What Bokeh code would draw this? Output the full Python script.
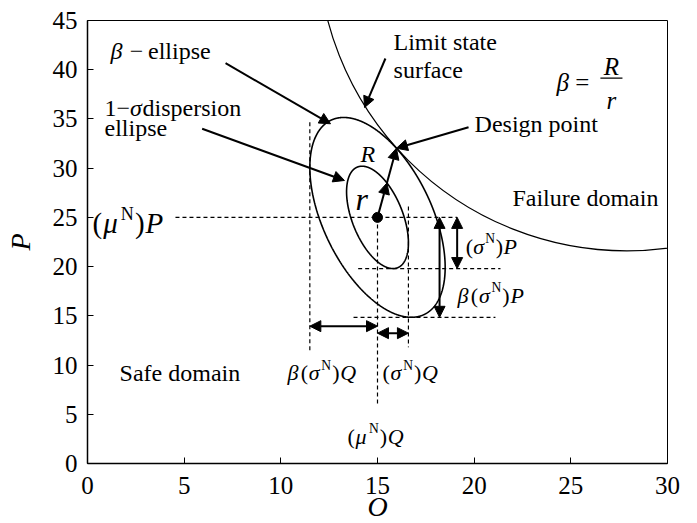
import numpy as np
from bokeh.plotting import figure
from bokeh.models import Label, Arrow, NormalHead, FixedTicker, Range1d
from bokeh.embed import file_html
from bokeh.resources import INLINE

SERIF = "'Liberation Serif', serif"

# axis ticks
x_ticks = [0, 5, 10, 15, 20, 25, 30]
y_ticks = [0, 5, 10, 15, 20, 25, 30, 35, 40, 45]

# mean point of the two variables (Q, P)
mu_q, mu_p = 15.0, 25.0
# half extents of the 1-sigma dispersion ellipse
sigma_q, sigma_p = 1.6, 5.2
# half extents of the beta ellipse
beta_sigma_q, beta_sigma_p = 3.5, 10.15
# correlation between Q and P
rho = -0.5

# limit state surface: elliptical arc (centre and semi-axes)
ls_center_q, ls_center_p = 27.9, 53.0
ls_radius_q, ls_radius_p = 16.0, 31.4


def dispersion_ellipse(hq, hp, n=1441):
    t = np.linspace(0, 2 * np.pi, n)
    phase = np.arccos(rho)
    return mu_q + hq * np.cos(t), mu_p + hp * np.cos(t + phase)


def ray_hit(hq, hp, dq, dp):
    """Scale factor s so that centre + s*(dq, dp) lies on the ellipse."""
    a = dq ** 2 / hq ** 2 - 2 * rho * dq * dp / (hq * hp) + dp ** 2 / hp ** 2
    return np.sqrt((1 - rho ** 2) / a)


p = figure(frame_width=580, frame_height=443,
           x_range=Range1d(0, 30), y_range=Range1d(0, 45),
           output_backend="svg", toolbar_location=None,
           min_border_left=87, min_border_right=30,
           min_border_top=20, min_border_bottom=50)
p.grid.visible = False
p.outline_line_color = "black"
p.outline_line_width = 1
p.background_fill_color = "white"
p.border_fill_color = "white"

for ax in (p.xaxis[0], p.yaxis[0]):
    ax.major_tick_in = 6
    ax.major_tick_out = 0
    ax.minor_tick_line_color = None
    ax.axis_line_width = 1.5
    ax.axis_line_color = "black"
    ax.major_tick_line_color = "black"
    ax.major_label_text_font = SERIF
    ax.major_label_text_font_size = "25px"
    ax.major_label_text_color = "black"
    ax.axis_label_text_font = SERIF
    ax.axis_label_text_font_size = "28px"
    ax.axis_label_text_font_style = "italic"
    ax.axis_label_text_color = "black"
p.xaxis.ticker = FixedTicker(ticks=x_ticks)
p.yaxis.ticker = FixedTicker(ticks=y_ticks)
p.xaxis.axis_label = "O"
p.yaxis.axis_label = "P"
p.xaxis.major_label_standoff = 13
p.yaxis.major_label_standoff = 10
p.xaxis.axis_label_standoff = -6
p.yaxis.axis_label_standoff = 14

# ellipses
sq, sp = dispersion_ellipse(sigma_q, sigma_p)
bq, bp = dispersion_ellipse(beta_sigma_q, beta_sigma_p)
p.line(sq, sp, line_color="black", line_width=1.6)
p.line(bq, bp, line_color="black", line_width=1.6)

# limit state surface
p.ellipse(x=[ls_center_q], y=[ls_center_p], width=[2 * ls_radius_q],
          height=[2 * ls_radius_p], fill_color=None, line_color="black",
          line_width=1.2)

# design point: point of the beta ellipse closest to the limit state
g = ((bq - ls_center_q) / ls_radius_q) ** 2 + ((bp - ls_center_p) / ls_radius_p) ** 2
k = int(np.argmin(g))
design_q, design_p = bq[k], bp[k]

# mean point
p.scatter([mu_q], [mu_p], size=10, color="black")

# dashed guide lines
dash = dict(line_color="black", line_width=1.2, line_dash="4 3")
p.segment(x0=[4.55, mu_q, mu_q - beta_sigma_q, mu_q + sigma_q, 14.0, 13.76],
          y0=[mu_p, mu_p, 34.67, 26.1, mu_p - sigma_p, mu_p - beta_sigma_p],
          x1=[19.12, mu_q, mu_q - beta_sigma_q, mu_q + sigma_q, 21.36, 21.1],
          y1=[mu_p, 5.89, 11.31, 11.81, mu_p - sigma_p, mu_p - beta_sigma_p],
          **dash)


def head():
    return NormalHead(size=11, fill_color="black", line_color="black", line_width=1)


def arrow(x0, y0, x1, y1, both=False, width=2):
    p.add_layout(Arrow(start=head() if both else None, end=head(),
                       x_start=x0, y_start=y0, x_end=x1, y_end=y1,
                       line_color="black", line_width=width))


# dimension arrows
arrow(18.21, mu_p, 18.21, mu_p - beta_sigma_p, both=True)
arrow(19.12, mu_p, 19.12, mu_p - sigma_p, both=True)
arrow(mu_q - beta_sigma_q, 13.95, mu_q, 13.95, both=True)
arrow(mu_q, 13.24, mu_q + sigma_q, 13.24, both=True)

# r and R arrows from the mean point to the design point
s = ray_hit(sigma_q, sigma_p, design_q - mu_q, design_p - mu_p)
mid_q = mu_q + s * (design_q - mu_q)
mid_p = mu_p + s * (design_p - mu_p)
arrow(mu_q, mu_p, mid_q, mid_p)
arrow(mid_q, mid_p, design_q, design_p)

# pointer arrows
arrow(7.14, 40.66, 12.57, 34.51)
arrow(5.93, 34.0, 13.29, 28.75)
arrow(15.41, 41.14, 14.33, 36.16)
arrow(19.71, 34.16, design_q, design_p)

# approximate advance widths (em) of Times-like glyphs for run layout
ADV = {"(": .333, ")": .333, "N": .722, "P": .611, "Q": .722, "R": .611,
       "r": .389, "σ": .52, "μ": .55, "β": .55, "1": .5, "−": .564,
       "=": .564, " ": .25, "\u00a0": .25, "\u2009": .17}

# labels are given by their baseline; raise them onto it
LIFT = 7


def rich(x, y, runs, size, track=1.0):
    dx = 0.0
    for text, style, scale, rise in runs:
        fs = size * scale
        p.add_layout(Label(x=x, y=y, x_offset=dx, y_offset=rise * size + LIFT,
                           text=text, text_font=SERIF,
                           text_font_size=f"{fs:.1f}px",
                           text_font_style=style, text_color="black",
                           text_align="left", text_baseline="alphabetic"))
        dx += sum(ADV.get(c, 0.5) for c in text) * fs * track


def plain(x, y, text, size=24, style="normal", align="left"):
    p.add_layout(Label(x=x, y=y, y_offset=LIFT, text=text, text_font=SERIF,
                       text_font_size=f"{size}px", text_font_style=style,
                       text_color="black", text_align=align,
                       text_baseline="alphabetic"))


N_SUP = ("N", "normal", 0.62, 0.33)

rich(1.19, 41.14, [("β", "italic", 1, 0),
                   ("\u00a0−\u2009ellipse", "normal", 1, 0)], 24)
rich(0.88, 35.35, [("1−", "normal", 1, 0), ("σ", "italic", 1, 0),
                   ("dispersion", "normal", 1, 0)], 24)
plain(0.88, 33.32, "ellipse")
plain(15.83, 42.13, "Limit state")
plain(15.83, 39.24, "surface")
plain(20.02, 33.76, "Design point")
plain(21.98, 26.21, "Failure domain")
plain(1.66, 8.5, "Safe domain")
plain(14.12, 30.68, "R", 24, "italic")
plain(13.86, 26.11, "r", 32, "italic")

rich(0.26, 23.67, [("(", "normal", 1, 0), ("μ", "italic", 1, 0), N_SUP,
                   (")", "normal", 1, 0), ("P", "italic", 1, 0)], 29, 1.1)
rich(19.56, 21.36, [("(", "normal", 1, 0), ("σ", "italic", 1, 0), N_SUP,
                    (")", "normal", 1, 0), ("P", "italic", 1, 0)], 22, 1.05)
rich(19.14, 16.39, [("β", "italic", 1, 0), ("(", "normal", 1, 0),
                    ("σ", "italic", 1, 0), N_SUP,
                    (")", "normal", 1, 0), ("P", "italic", 1, 0)], 22, 1.1)
rich(10.34, 8.5, [("β", "italic", 1, 0), ("(", "normal", 1, 0),
                  ("σ", "italic", 1, 0), N_SUP,
                  (")", "normal", 1, 0), ("Q", "italic", 1, 0)], 22, 1.1)
rich(15.26, 8.5, [("(", "normal", 1, 0), ("σ", "italic", 1, 0), N_SUP,
                  (")", "normal", 1, 0), ("Q", "italic", 1, 0)], 22, 1.1)
rich(13.45, 2.06, [("(", "normal", 1, 0), ("μ", "italic", 1, 0), N_SUP,
                   (")", "normal", 1, 0), ("Q", "italic", 1, 0)], 22, 1.1)

# beta = R / r
rich(24.26, 38.0, [("β", "italic", 1, 0), ("\u2009=", "normal", 1, 0)], 25)
plain(27.1, 39.59, "R", 25, "italic", "center")
plain(27.1, 36.2, "r", 25, "italic", "center")
p.segment(x0=[26.53], y0=[39.14], x1=[27.67], y1=[39.14],
          line_color="black", line_width=1.2)

open("out.html", "w").write(file_html(p, INLINE))
